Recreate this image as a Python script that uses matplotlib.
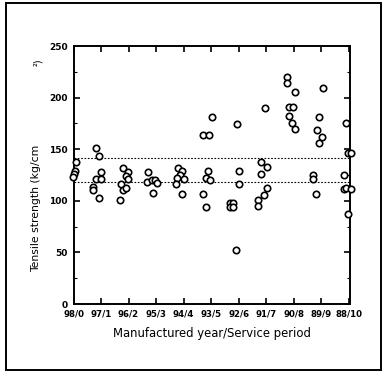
import matplotlib
matplotlib.use("Agg")
import matplotlib.pyplot as plt
from matplotlib.patches import Rectangle
from matplotlib.ticker import MultipleLocator

categories = ["98/0", "97/1", "96/2", "95/3", "94/4", "93/5", "92/6", "91/7", "90/8", "89/9", "88/10"]

# (x position, tensile strength) per group
g0_x = [0.10, 0.05, 0.00, -0.02]
g0_y = [138, 129, 126, 123]
g1_x = [0.82, 0.92, 1.01, 0.82, 1.00, 0.72, 0.72, 0.92]
g1_y = [151, 143, 128, 121, 121, 113, 110, 103]
g2_x = [1.81, 1.99, 1.91, 1.99, 1.72, 1.81, 1.91, 1.69]
g2_y = [132, 128, 124, 121, 116, 110, 112, 101]
g3_x = [2.72, 2.68, 2.84, 2.96, 3.03, 2.90]
g3_y = [128, 118, 120, 120, 117, 108]
g4_x = [3.80, 3.93, 3.86, 3.75, 4.00, 3.72, 3.93]
g4_y = [132, 129, 125, 122, 121, 116, 107]
g5_x = [4.72, 4.93, 5.02, 4.90, 4.82, 4.95, 4.72, 4.81]
g5_y = [164, 164, 181, 129, 122, 120, 107, 94]
g6_x = [5.93, 6.02, 6.02, 5.69, 5.81, 5.69, 5.81, 5.90]
g6_y = [174, 129, 116, 98, 98, 94, 94, 52]
g7_x = [6.96, 6.81, 7.03, 6.81, 7.03, 6.93, 6.72, 6.72]
g7_y = [190, 138, 133, 126, 112, 106, 101, 95]
g8_x = [7.75, 7.75, 8.05, 7.85, 7.97, 7.85, 7.95, 8.05]
g8_y = [220, 214, 205, 191, 191, 182, 175, 170]
g9_x = [9.06, 8.94, 8.85, 9.03, 8.94, 8.72, 8.72, 8.82]
g9_y = [209, 181, 169, 162, 156, 125, 121, 107]
g10_x = [9.89, 9.98, 10.10, 9.82, 9.82, 9.89, 10.07, 9.96]
g10_y = [175, 146, 146, 125, 111, 112, 111, 87]

upper_line = 141
lower_line = 118.5

xs = g0_x + g1_x + g2_x + g3_x + g4_x + g5_x + g6_x + g7_x + g8_x + g9_x + g10_x
ys = g0_y + g1_y + g2_y + g3_y + g4_y + g5_y + g6_y + g7_y + g8_y + g9_y + g10_y

W, H = 384, 386
fig = plt.figure(figsize=(W / 100, H / 100), dpi=100)
fig.patch.set_facecolor("white")

ax = fig.add_axes([73.5 / W, 1 - 304 / H, 276.5 / W, (304 - 46) / H])

narrow = ["Liberation Sans Narrow", "DejaVu Sans"]

ax.plot(xs, ys, linestyle="none", marker="o", markersize=4.6,
        markerfacecolor="white", markeredgecolor="black", markeredgewidth=1.2,
        clip_on=False, zorder=3)

ax.axhline(upper_line, color="black", linestyle=(0, (1.5, 1.5)), linewidth=0.8, zorder=2)
ax.axhline(lower_line, color="black", linestyle=(0, (1.5, 1.5)), linewidth=0.8, zorder=2)

ax.set_xlim(0, 10.05)
ax.set_ylim(0, 250)
ax.set_xticks(range(len(categories)))
ax.set_xticklabels(categories, fontfamily=narrow, fontsize=6.2, fontweight="bold")
ax.set_yticks([0, 50, 100, 150, 200, 250])
ax.set_yticklabels(["0", "50", "100", "150", "200", "250"], fontfamily=narrow,
                   fontsize=6.5, fontweight="bold")
ax.yaxis.set_minor_locator(MultipleLocator(25))
ax.tick_params(axis="both", which="major", direction="in", length=4, width=1.2,
               top=True, right=True, pad=4)
ax.tick_params(axis="y", which="minor", direction="in", length=2, width=0.8, right=True)
for s in ax.spines.values():
    s.set_linewidth(1.4)

ax.set_xlabel("Manufactured year/Service period", fontfamily=narrow, fontsize=8.4, labelpad=6)
fig.text(36 / W, 1 - 208 / H, "Tensile strength (kg/cm", rotation=90, ha="center",
         va="center", fontfamily=narrow, fontsize=7.8)
fig.text(38 / W, 1 - 62 / H, "²)", rotation=90, ha="center", va="center",
         fontfamily=narrow, fontsize=7)

fig.patches.append(Rectangle((6 / W, 1 - 370 / H), (381 - 6) / W, (370 - 3) / H,
                             transform=fig.transFigure, fill=False,
                             edgecolor="black", linewidth=1.4))

fig.savefig("out.png", dpi=100)
